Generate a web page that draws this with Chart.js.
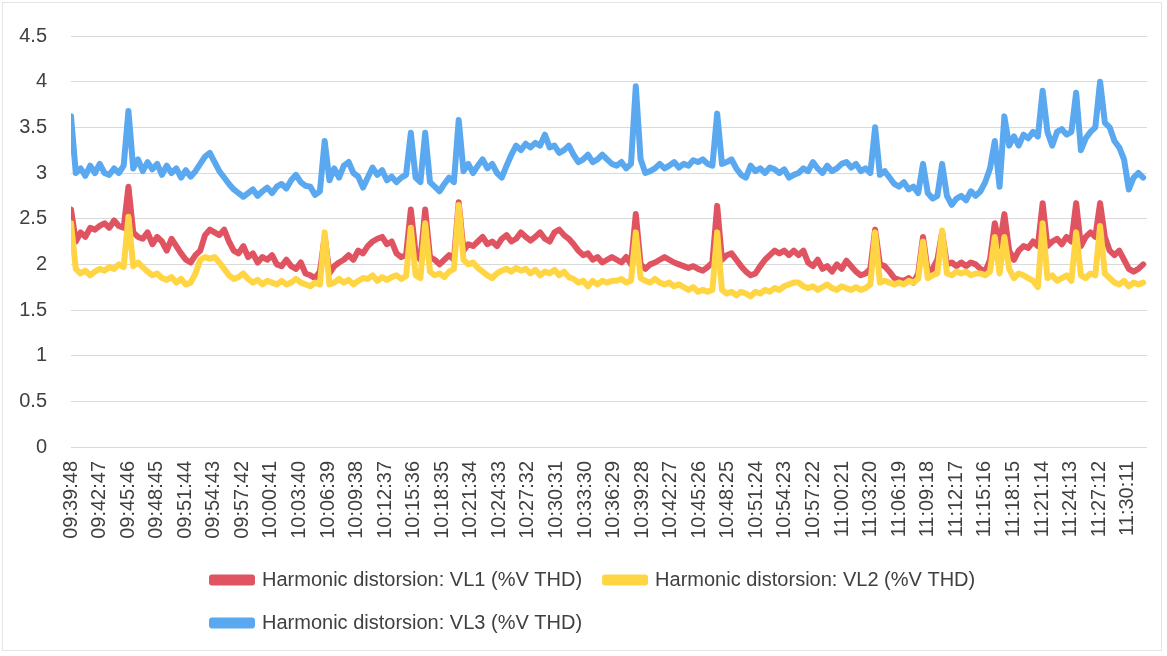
<!DOCTYPE html>
<html>
<head>
<meta charset="utf-8">
<script src="https://cdn.jsdelivr.net/npm/chart.js@4.4.1/dist/chart.umd.min.js"></script>
<style>
  html, body { margin: 0; padding: 0; background: #ffffff; }
  #wrap { width: 1167px; height: 656px; position: relative; }
  canvas { display: block; }
</style>
</head>
<body>
<div id="wrap"><canvas id="c" width="1167" height="656"></canvas></div>
<script>
// ---- Data ----
const seriesNames = [
  "Harmonic distorsion: VL1 (%V THD)",
  "Harmonic distorsion: VL2 (%V THD)",
  "Harmonic distorsion: VL3 (%V THD)"
];

// x-axis tick labels (one every 179 s from 09:39:48)
const tickLabels = [
  "09:39:48","09:42:47","09:45:46","09:48:45","09:51:44","09:54:43","09:57:42",
  "10:00:41","10:03:40","10:06:39","10:09:38","10:12:37","10:15:36","10:18:35",
  "10:21:34","10:24:33","10:27:32","10:30:31","10:33:30","10:36:29","10:39:28",
  "10:42:27","10:45:26","10:48:25","10:51:24","10:54:23","10:57:22","11:00:21",
  "11:03:20","11:06:19","11:09:18","11:12:17","11:15:16","11:18:15","11:21:14",
  "11:24:13","11:27:12","11:30:11"
];
const tickStepSeconds = 179;
const sampleStepSeconds = 30;   // readings sampled every 30 s from 09:39:48

// VL1 (red)
const vl1 = [
  2.6,2.25,2.35,2.3,2.4,2.38,2.42,2.45,2.4,2.48,2.42,2.4,2.85,2.35,2.3,2.28,2.35,2.22,2.3,2.25,2.15,2.28,2.2,2.12,2.05,2.02,2.1,2.15,2.32,2.38,2.35,2.32,2.38,2.25,2.15,2.12,2.2,
  2.08,2.12,2.02,2.08,2.05,2.1,2.0,1.98,2.05,1.98,1.95,2.02,1.9,1.88,1.85,1.92,2.3,1.9,1.98,2.02,2.05,2.1,2.05,2.15,2.12,2.2,2.25,2.28,2.3,2.22,2.25,2.12,2.08,2.1,2.6,2.12,2.05,2.6,
  2.08,2.05,2.0,2.05,2.1,2.05,2.68,2.15,2.22,2.2,2.25,2.3,2.22,2.25,2.2,2.28,2.32,2.25,2.28,2.35,2.3,2.26,2.3,2.35,2.28,2.25,2.35,2.38,2.32,2.28,2.22,2.15,2.1,2.12,2.05,2.08,2.02,2.05,2.08,
  2.05,2.02,2.08,2.0,2.55,2.0,1.95,2.0,2.02,2.05,2.08,2.05,2.02,2.0,1.98,1.96,1.98,1.95,1.93,1.97,2.02,2.64,2.05,2.1,2.12,2.05,1.98,1.92,1.88,1.9,1.98,2.05,2.1,2.15,2.12,2.15,2.1,2.15,
  2.1,2.15,2.02,1.98,2.05,1.95,1.98,1.92,2.0,1.95,2.04,1.98,1.92,1.88,1.9,1.95,2.38,2.0,1.98,1.92,1.85,1.83,1.82,1.85,1.8,1.9,2.3,1.92,1.95,2.05,2.35,2.0,2.02,1.98,2.02,1.98,2.02,2.0,
  1.95,1.92,2.05,2.45,2.2,2.55,2.15,2.05,2.15,2.2,2.18,2.25,2.2,2.67,2.2,2.25,2.28,2.22,2.3,2.25,2.67,2.2,2.3,2.35,2.3,2.67,2.3,2.15,2.1,2.15,2.05,1.95,1.92,1.95,2.0
];

// VL2 (yellow)
const vl2 = [
  2.45,1.95,1.9,1.93,1.88,1.92,1.95,1.93,1.97,1.95,2.0,1.97,2.52,1.98,2.02,1.97,1.92,1.88,1.9,1.85,1.83,1.86,1.8,1.84,1.78,1.8,1.9,2.05,2.08,2.06,2.08,2.02,1.95,1.88,1.84,1.86,1.9,
  1.84,1.8,1.83,1.78,1.82,1.8,1.78,1.82,1.78,1.8,1.84,1.8,1.78,1.76,1.8,1.78,2.35,1.78,1.8,1.84,1.8,1.83,1.78,1.82,1.85,1.84,1.88,1.82,1.86,1.83,1.86,1.88,1.84,1.87,2.4,1.88,1.85,2.45,
  1.92,1.88,1.9,1.86,1.92,1.95,2.65,2.05,2.0,2.02,1.96,1.92,1.88,1.85,1.9,1.93,1.95,1.92,1.96,1.93,1.95,1.9,1.94,1.88,1.92,1.9,1.94,1.88,1.92,1.86,1.84,1.8,1.82,1.76,1.82,1.78,1.82,1.8,1.82,
  1.82,1.84,1.8,1.82,2.35,1.85,1.82,1.8,1.84,1.8,1.78,1.8,1.76,1.78,1.75,1.72,1.75,1.7,1.72,1.7,1.72,2.35,1.72,1.68,1.7,1.66,1.7,1.68,1.65,1.7,1.68,1.72,1.7,1.74,1.72,1.76,1.78,1.8,
  1.8,1.76,1.74,1.76,1.72,1.75,1.78,1.74,1.72,1.76,1.74,1.72,1.75,1.72,1.74,1.78,2.35,1.8,1.82,1.8,1.78,1.8,1.78,1.82,1.8,1.84,2.25,1.85,1.88,1.9,2.37,1.9,1.88,1.92,1.9,1.92,1.88,1.9,
  1.9,1.88,1.92,2.3,1.9,2.3,1.95,1.85,1.9,1.88,1.85,1.82,1.75,2.45,1.85,1.88,1.82,1.85,1.88,1.82,2.35,1.88,1.85,1.9,1.88,2.42,1.9,1.85,1.8,1.78,1.82,1.76,1.8,1.78,1.8
];

// VL3 (blue)
const vl3 = [
  3.62,3.0,3.05,2.97,3.08,3.0,3.1,3.0,2.98,3.05,3.0,3.08,3.68,3.05,3.15,3.02,3.12,3.04,3.1,2.98,3.08,3.0,3.05,2.95,3.03,2.96,3.02,3.1,3.18,3.22,3.12,3.02,2.95,2.88,2.82,2.78,2.74,
  2.78,2.82,2.75,2.8,2.84,2.78,2.85,2.88,2.83,2.92,2.98,2.9,2.86,2.85,2.76,2.8,3.35,2.92,3.05,2.95,3.08,3.12,3.0,2.96,2.84,2.95,3.06,2.98,3.03,2.92,2.96,2.9,2.95,2.98,3.44,2.95,2.9,3.44,
  2.9,2.85,2.8,2.88,2.95,2.9,3.58,3.02,3.1,3.0,3.08,3.15,3.05,3.1,3.0,2.95,3.08,3.2,3.3,3.25,3.32,3.28,3.33,3.3,3.42,3.28,3.3,3.22,3.25,3.3,3.2,3.12,3.15,3.2,3.12,3.15,3.2,3.15,3.1,
  3.08,3.12,3.05,3.1,3.95,3.15,3.0,3.02,3.05,3.1,3.05,3.08,3.12,3.06,3.1,3.08,3.14,3.12,3.15,3.1,3.08,3.65,3.1,3.12,3.15,3.05,2.98,2.95,3.08,3.02,3.05,3.0,3.06,3.04,3.0,3.04,2.95,2.98,
  3.0,3.05,3.02,3.12,3.05,3.0,3.08,3.02,3.05,3.1,3.12,3.06,3.1,3.02,3.05,3.0,3.5,2.98,3.02,2.95,2.88,2.85,2.9,2.82,2.85,2.78,3.1,2.78,2.72,2.75,3.1,2.75,2.65,2.72,2.75,2.7,2.8,2.75,
  2.8,2.9,3.05,3.35,2.85,3.62,3.3,3.4,3.3,3.42,3.38,3.45,3.4,3.9,3.45,3.3,3.45,3.48,3.42,3.45,3.88,3.25,3.38,3.45,3.5,4.0,3.55,3.5,3.35,3.28,3.15,2.82,2.95,3.0,2.95
];

const yTickValues = [0, 0.5, 1, 1.5, 2, 2.5, 3, 3.5, 4, 4.5];

// ---- Chart construction ----
const toPoints = arr => arr.map((v, i) => ({ x: i * sampleStepSeconds, y: v }));
const FONT = "'Liberation Sans', Arial, sans-serif";
const TEXT = '#404040';

const frame = {
  id: 'frame',
  beforeDraw(chart) {
    const ctx = chart.ctx;
    ctx.save();
    ctx.fillStyle = '#ffffff';
    ctx.fillRect(0, 0, chart.width, chart.height);
    ctx.strokeStyle = '#e4e4e4';
    ctx.lineWidth = 1;
    ctx.strokeRect(2.5, 2.5, chart.width - 8, chart.height - 8);
    ctx.restore();
  },
  afterLayout(chart) {
    if (chart.legend) {
      chart.legend.left = 212 - chart.legend.options.labels.padding;
    }
  }
};

new Chart(document.getElementById('c'), {
  type: 'line',
  data: {
    datasets: [
      { label: seriesNames[0], data: toPoints(vl1), borderColor: '#e05462', backgroundColor: '#e05462', order: 3 },
      { label: seriesNames[1], data: toPoints(vl2), borderColor: '#ffd544', backgroundColor: '#ffd544', order: 2 },
      { label: seriesNames[2], data: toPoints(vl3), borderColor: '#5aa9f0', backgroundColor: '#5aa9f0', order: 1 }
    ]
  },
  options: {
    responsive: false,
    devicePixelRatio: 1,
    animation: false,
    events: [],
    layout: { padding: { left: 0, right: 20, top: 31, bottom: 13 } },
    elements: {
      line: { borderWidth: 6, tension: 0, borderJoinStyle: 'round', borderCapStyle: 'round' },
      point: { radius: 0 }
    },
    scales: {
      x: {
        type: 'linear',
        min: 0,
        max: 6744,
        grid: { display: false, drawTicks: false },
        border: { display: false },
        afterBuildTicks(scale) {
          scale.ticks = tickLabels.map((_, k) => ({ value: k * tickStepSeconds }));
        },
        afterFit(scale) { scale.height = 100; },
        ticks: {
          autoSkip: false,
          maxRotation: 90,
          minRotation: 90,
          padding: 14,
          color: TEXT,
          font: { family: FONT, size: 20 },
          callback: (v, idx) => tickLabels[idx]
        }
      },
      y: {
        min: 0,
        max: 4.5,
        afterBuildTicks(scale) {
          scale.ticks = yTickValues.map(v => ({ value: v }));
        },
        afterFit(scale) { scale.width = 71; },
        grid: { color: '#d9d9d9', lineWidth: 1, drawTicks: false },
        border: { display: false },
        ticks: {
          padding: 24,
          color: TEXT,
          font: { family: FONT, size: 20 },
          callback: v => String(v)
        }
      }
    },
    plugins: {
      legend: {
        position: 'bottom',
        align: 'start',
        labels: {
          boxWidth: 40,
          boxHeight: 5,
          padding: 23,
          color: TEXT,
          font: { family: FONT, size: 20 },
          sort: (a, b) => a.datasetIndex - b.datasetIndex
        }
      },
      tooltip: { enabled: false }
    }
  },
  plugins: [frame]
});
</script>
</body>
</html>
